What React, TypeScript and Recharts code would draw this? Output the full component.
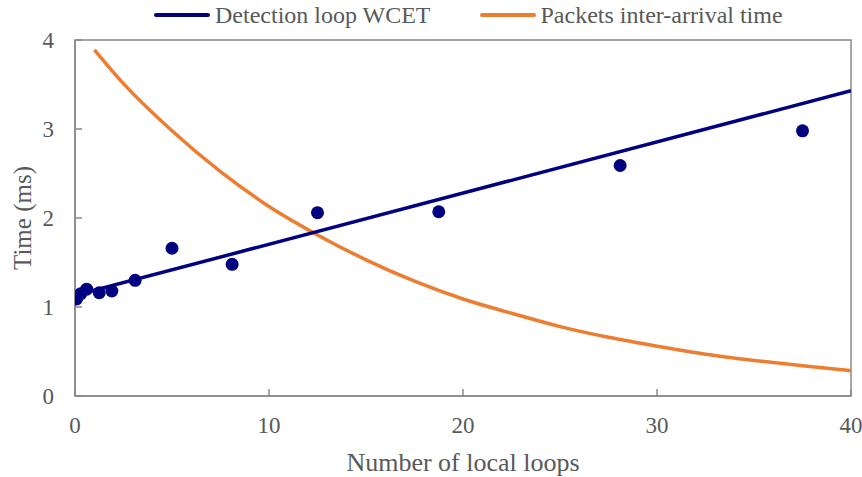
import React from 'react';
import { ComposedChart, Line, Scatter, XAxis, YAxis, ReferenceArea, Legend } from 'recharts';

const NAVY = '#000080';
const ORANGE = '#ED7D31';
const GRAY = '#898989';
const TEXT = '#595959';
const FONT = '"Liberation Serif", "Times New Roman", serif';

// Measured detection loop WCET (scatter)
const loopCounts = [0.08, 0.3, 0.6, 1.25, 1.9, 3.1, 5, 8.1, 12.5, 18.75, 28.1, 37.5];
const wcetMeasured = [1.09, 1.15, 1.2, 1.16, 1.18, 1.3, 1.66, 1.48, 2.06, 2.07, 2.59, 2.98];

// Linear fit of detection loop WCET
const fitX = [0, 40];
const fitY = [1.13, 3.43];

// Packets inter-arrival time curve
const arrivalX = [1, 2.5, 5, 7.5, 10, 12.5, 15, 17.5, 20, 22.5, 25, 27.5, 30, 32.5, 35, 37.5, 40];
const arrivalY = [3.89, 3.51, 2.98, 2.52, 2.13, 1.81, 1.53, 1.29, 1.09, 0.93, 0.78, 0.66, 0.56, 0.47, 0.4, 0.34, 0.285];

const xTicks = [0, 10, 20, 30, 40];
const yTicks = [0, 1, 2, 3, 4];

const seriesNames = ['Detection loop WCET', 'Packets inter-arrival time'];
const seriesColors = [NAVY, ORANGE];

const scatterData = loopCounts.map((x, i) => ({ x, y: wcetMeasured[i] }));
const fitData = fitX.map((x, i) => ({ x, y: fitY[i] }));
const arrivalData = arrivalX.map((x, i) => ({ x, y: arrivalY[i] }));

function LegendContent() {
  return (
    <div style={{ height: 30, position: 'relative', fontFamily: FONT, fontSize: 24, color: TEXT }}>
      <div style={{ position: 'absolute', left: 153, top: 0, height: 30, display: 'flex', alignItems: 'center', whiteSpace: 'nowrap' }}>
        {seriesNames.map((name, i) => (
          <div key={name} style={{ display: 'flex', alignItems: 'center', marginLeft: i ? 48 : 0 }}>
            <svg width={58} height={8} style={{ display: 'block' }}>
              <line x1={3} y1={4} x2={55} y2={4} stroke={seriesColors[i]} strokeWidth={4} strokeLinecap="round" />
            </svg>
            <span style={{ marginLeft: 4, lineHeight: '30px' }}>{name}</span>
          </div>
        ))}
      </div>
    </div>
  );
}

const YLabel = (props: any) => {
  const vb = props.viewBox || { x: 0, y: 0, width: 0, height: 0 };
  const cx = vb.x + 22;
  const cy = vb.y + vb.height / 2;
  return (
    <text
      x={cx}
      y={cy}
      transform={`rotate(-90, ${cx}, ${cy})`}
      textAnchor="middle"
      dominantBaseline="central"
      fill={TEXT}
      fontFamily={FONT}
      fontSize={25}
    >
      Time (ms)
    </text>
  );
};

const tickStyle = { fill: TEXT, fontFamily: FONT, fontSize: 23 };

export default function App() {
  return (
    <div style={{ position: 'absolute', left: 0, top: 0 }}>
      <ComposedChart width={862} height={477} margin={{ top: 10, right: 11, bottom: 0, left: 0 }}>
        <Legend verticalAlign="top" content={<LegendContent />} wrapperStyle={{ top: 0, left: 0, width: 862, height: 30 }} />
        <XAxis
          type="number"
          dataKey="x"
          domain={[0, 40]}
          ticks={xTicks}
          interval={0}
          allowDataOverflow
          height={81}
          tick={tickStyle}
          tickSize={-7}
          tickMargin={28}
          axisLine={{ stroke: GRAY, strokeWidth: 1.5 }}
          tickLine={{ stroke: GRAY, strokeWidth: 1.5 }}
          label={{ value: 'Number of local loops', position: 'insideBottom', offset: 6.5, fill: TEXT, fontFamily: FONT, fontSize: 26 }}
        />
        <YAxis
          type="number"
          dataKey="y"
          domain={[0, 4]}
          ticks={yTicks}
          interval={0}
          allowDataOverflow
          width={75}
          tick={tickStyle}
          tickSize={-7}
          tickMargin={28}
          axisLine={{ stroke: GRAY, strokeWidth: 1.5 }}
          tickLine={{ stroke: GRAY, strokeWidth: 1.5 }}
          label={<YLabel />}
        />
        <ReferenceArea x1={0} x2={40} y1={0} y2={4} fill="none" stroke={GRAY} strokeWidth={1.5} />
        <Line
          data={arrivalData}
          dataKey="y"
          type="monotone"
          stroke={ORANGE}
          strokeWidth={3.5}
          dot={false}
          activeDot={false}
          isAnimationActive={false}
          legendType="none"
        />
        <Line
          data={fitData}
          dataKey="y"
          type="linear"
          stroke={NAVY}
          strokeWidth={3.5}
          dot={false}
          activeDot={false}
          isAnimationActive={false}
          legendType="none"
        />
        <Scatter
          data={scatterData}
          dataKey="y"
          fill={NAVY}
          isAnimationActive={false}
          legendType="none"
          shape={(p: any) => <circle cx={p.cx} cy={p.cy} r={6.5} fill={NAVY} />}
        />
      </ComposedChart>
    </div>
  );
}
